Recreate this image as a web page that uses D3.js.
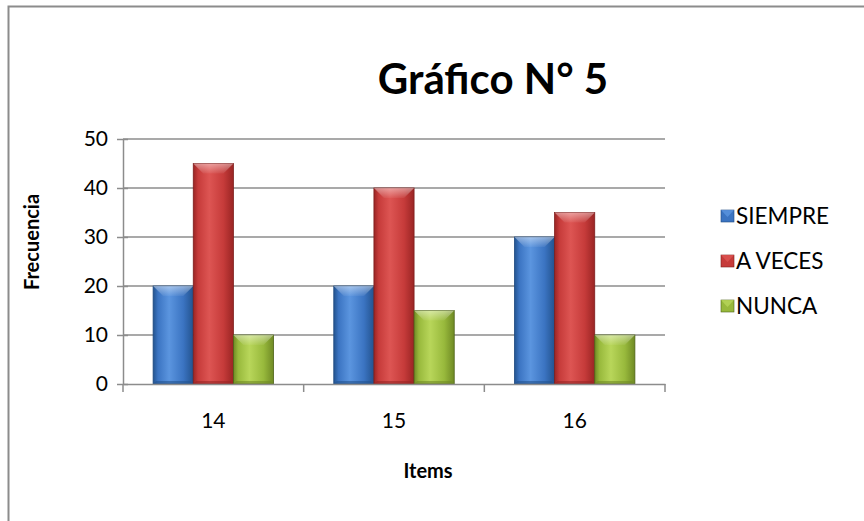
<!DOCTYPE html>
<html>
<head>
<meta charset="utf-8">
<script src="https://cdn.jsdelivr.net/npm/d3@7"></script>
<style>
  html, body { margin: 0; padding: 0; background: #fff; }
  svg { display: block; }
  text { font-family: Lato, "Open Sans", "Liberation Sans", sans-serif; fill: #000; }
</style>
</head>
<body>
<svg id="chart" width="864" height="521"></svg>
<script>
// Chart data
const categories = ["14", "15", "16"];
const seriesNames = ["SIEMPRE", "A VECES", "NUNCA"];
const siempre = [20, 20, 30];
const aVeces = [45, 40, 35];
const nunca = [10, 15, 10];
const yTicks = [0, 10, 20, 30, 40, 50];

const seriesValues = [siempre, aVeces, nunca];
const palette = [
  { base: "#3b74c2", light: "#5b95df", dark: "#23538f", edge: "#1f4a80" },
  { base: "#c63b3a", light: "#dd5553", dark: "#9a2524", edge: "#7e1e1d" },
  { base: "#98b93c", light: "#b8d65a", dark: "#6f8a24", edge: "#4f6418" }
];

const svg = d3.select("#chart");

// Outer chart frame
svg.append("rect")
  .attr("x", 8.5).attr("y", 6.5)
  .attr("width", 870).attr("height", 530)
  .attr("fill", "#fff")
  .attr("stroke", "#8c8c8c").attr("stroke-width", 2);

const plot = { left: 123, right: 665, top: 139, bottom: 384 };

const x0 = d3.scaleBand().domain(categories).range([plot.left, plot.right]).padding(0);
const x1 = d3.scaleBand().domain(d3.range(seriesNames.length))
  .range([x0.bandwidth() / 6, x0.bandwidth() * 5 / 6]).padding(0);
const y = d3.scaleLinear().domain([0, 50]).range([plot.bottom, plot.top]);

// Gradients giving the bars a bevelled, rounded look
const defs = svg.append("defs");
palette.forEach((c, i) => {
  const g = defs.append("linearGradient").attr("id", "grad" + i)
    .attr("x1", "0%").attr("x2", "100%").attr("y1", "0%").attr("y2", "0%");
  g.append("stop").attr("offset", "0%").attr("stop-color", c.dark);
  g.append("stop").attr("offset", "12%").attr("stop-color", c.base);
  g.append("stop").attr("offset", "40%").attr("stop-color", c.light);
  g.append("stop").attr("offset", "75%").attr("stop-color", c.base);
  g.append("stop").attr("offset", "100%").attr("stop-color", c.dark);
  const t = defs.append("linearGradient").attr("id", "top" + i)
    .attr("x1", "0%").attr("x2", "0%").attr("y1", "0%").attr("y2", "100%");
  t.append("stop").attr("offset", "0%").attr("stop-color", "#ffffff").attr("stop-opacity", 0.45);
  t.append("stop").attr("offset", "100%").attr("stop-color", "#ffffff").attr("stop-opacity", 0.05);
});

// Gridlines
svg.append("g")
  .selectAll("line")
  .data(yTicks.filter(d => d > 0))
  .join("line")
  .attr("x1", plot.left).attr("x2", plot.right)
  .attr("y1", d => y(d)).attr("y2", d => y(d))
  .attr("stroke", "#8c8c8c").attr("stroke-width", 1.5);

// Y axis
const yAxis = d3.axisLeft(y).tickValues(yTicks).tickSize(6).tickPadding(9).tickSizeOuter(0);
const gy = svg.append("g").attr("transform", `translate(${plot.left},0)`).call(yAxis);
gy.select(".domain").attr("stroke", "#8c8c8c").attr("stroke-width", 1.5);
gy.selectAll(".tick line").attr("stroke", "#8c8c8c").attr("stroke-width", 1.5).attr("x2", -6).attr("x1", 5);
gy.selectAll(".tick text").attr("font-size", 21).attr("font-family", "Lato, 'Open Sans', sans-serif");

// Bars
const groups = svg.append("g").selectAll("g")
  .data(categories)
  .join("g")
  .attr("transform", d => `translate(${x0(d)},0)`);

groups.each(function (cat, ci) {
  const g = d3.select(this);
  seriesValues.forEach((vals, si) => {
    const bx = x1(si), bw = x1.bandwidth();
    const by = y(vals[ci]), bh = y(0) - y(vals[ci]);
    g.append("rect")
      .attr("x", bx).attr("y", by).attr("width", bw).attr("height", bh)
      .attr("fill", `url(#grad${si})`)
      .attr("stroke", palette[si].edge).attr("stroke-width", 0.8);
    // bevelled top cap
    const bev = 10;
    g.append("path")
      .attr("d", `M${bx},${by} L${bx + bw},${by} L${bx + bw - bev},${by + bev} L${bx + bev},${by + bev} Z`)
      .attr("fill", `url(#top${si})`);
    // darker bottom edge
    g.append("path")
      .attr("d", `M${bx},${by + bh} L${bx + bw},${by + bh} L${bx + bw - 3},${by + bh - 3} L${bx + 3},${by + bh - 3} Z`)
      .attr("fill", palette[si].dark).attr("opacity", 0.6);
  });
});

// X axis
const xAxis = d3.axisBottom(x0).tickSize(0).tickPadding(29);
const gx = svg.append("g").attr("transform", `translate(0,${plot.bottom})`).call(xAxis);
gx.select(".domain").attr("stroke", "#8c8c8c").attr("stroke-width", 1.5);
gx.selectAll(".tick text").attr("font-size", 21).attr("font-family", "Lato, 'Open Sans', sans-serif");
// category boundary ticks
svg.append("g").selectAll("line")
  .data(categories.map(c => x0(c)).concat([x0(categories[categories.length - 1]) + x0.bandwidth()]))
  .join("line")
  .attr("x1", d => d).attr("x2", d => d)
  .attr("y1", plot.bottom).attr("y2", plot.bottom + 8)
  .attr("stroke", "#8c8c8c").attr("stroke-width", 1.5);

// Title
svg.append("text")
  .attr("x", 493).attr("y", 94)
  .attr("text-anchor", "middle")
  .attr("font-size", 42).attr("font-weight", "bold")
  .text("Gráfico N° 5");

// Axis titles
svg.append("text")
  .attr("transform", "translate(39,242) rotate(-90)")
  .attr("text-anchor", "middle")
  .attr("font-size", 20).attr("font-weight", "bold")
  .text("Frecuencia");

svg.append("text")
  .attr("x", 428).attr("y", 478)
  .attr("text-anchor", "middle")
  .attr("font-size", 20).attr("font-weight", "bold")
  .text("Items");

// Legend
const legend = svg.append("g").selectAll("g")
  .data(seriesNames)
  .join("g")
  .attr("transform", (d, i) => `translate(721,${216 + i * 45})`);
legend.append("rect")
  .attr("x", 0).attr("y", -6).attr("width", 13).attr("height", 12)
  .attr("fill", (d, i) => palette[i].base)
  .attr("stroke", (d, i) => palette[i].edge).attr("stroke-width", 0.6);
legend.append("path")
  .attr("d", "M0,-6 L13,-6 L6.5,1 Z")
  .attr("fill", (d, i) => palette[i].light).attr("opacity", 0.8);
legend.append("text")
  .attr("x", 15).attr("y", 0).attr("dy", "0.35em")
  .attr("font-size", 22.5)
  .text(d => d);
</script>
</body>
</html>
